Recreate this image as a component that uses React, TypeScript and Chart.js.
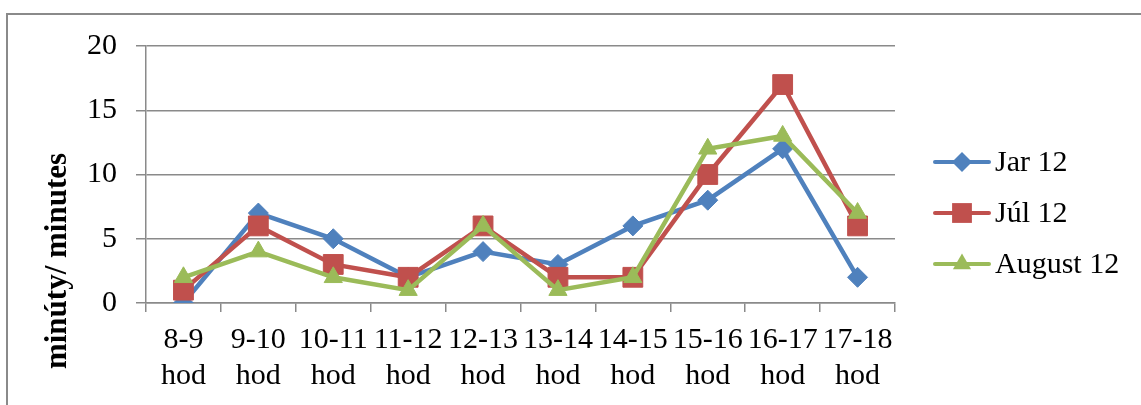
import React, { useEffect, useRef } from 'react';
import { Chart, registerables } from 'chart.js';

Chart.register(...registerables);

const categories: string[][] = [
  ['8-9', 'hod'],
  ['9-10', 'hod'],
  ['10-11', 'hod'],
  ['11-12', 'hod'],
  ['12-13', 'hod'],
  ['13-14', 'hod'],
  ['14-15', 'hod'],
  ['15-16', 'hod'],
  ['16-17', 'hod'],
  ['17-18', 'hod'],
];
const jar12 = [0, 7, 5, 2, 4, 3, 6, 8, 12, 2];
const jul12 = [1, 6, 3, 2, 6, 2, 2, 10, 17, 6];
const aug12 = [2, 4, 2, 1, 6, 1, 2, 12, 13, 7];
const yTicks = [0, 5, 10, 15, 20];
const seriesNames = ['Jar 12', 'Júl 12', 'August 12'];
const seriesColors = ['#4F81BD', '#C0504D', '#9BBB59'];
const seriesMarkers = ['rectRot', 'rect', 'triangle'];
const markerRadius = [10, 14, 10.5];
const yTitle = 'minúty/ minutes';

const FONT = "'Liberation Serif', 'Times New Roman', serif";
const GRAY = '#8a8a8a';

function drawMarker(ctx: CanvasRenderingContext2D, style: string, x: number, y: number, r: number) {
  ctx.beginPath();
  if (style === 'rectRot') {
    ctx.moveTo(x - r, y);
    ctx.lineTo(x, y - r);
    ctx.lineTo(x + r, y);
    ctx.lineTo(x, y + r);
  } else if (style === 'rect') {
    const s = Math.SQRT1_2 * r;
    ctx.rect(x - s, y - s, 2 * s, 2 * s);
  } else {
    const a = (2 * Math.PI) / 3;
    ctx.moveTo(x, y - r);
    ctx.lineTo(x + Math.sin(a) * r, y - Math.cos(a) * r);
    ctx.lineTo(x + Math.sin(2 * a) * r, y - Math.cos(2 * a) * r);
  }
  ctx.closePath();
  ctx.fill();
}

const decorPlugin = {
  id: 'decor',
  beforeDraw(chart: any) {
    const ctx: CanvasRenderingContext2D = chart.ctx;
    ctx.save();
    ctx.fillStyle = '#ffffff';
    ctx.fillRect(0, 0, chart.width, chart.height);
    ctx.strokeStyle = GRAY;
    ctx.lineWidth = 2;
    ctx.beginPath();
    ctx.moveTo(7, chart.height);
    ctx.lineTo(7, 14);
    ctx.lineTo(chart.width, 14);
    ctx.stroke();
    ctx.restore();
  },
  afterDraw(chart: any) {
    const ctx: CanvasRenderingContext2D = chart.ctx;
    const area = chart.chartArea;
    ctx.save();
    // y-axis title
    ctx.translate(58, 261);
    ctx.rotate(-Math.PI / 2);
    ctx.font = `bold 31px ${FONT}`;
    ctx.fillStyle = '#000';
    ctx.textAlign = 'center';
    ctx.textBaseline = 'middle';
    ctx.fillText(yTitle, 0, 0);
    ctx.restore();

    // legend
    ctx.save();
    const x0 = area.right + 40;
    const y0 = area.top + 116;
    chart.data.datasets.forEach((ds: any, i: number) => {
      const y = y0 + i * 51;
      ctx.strokeStyle = ds.borderColor;
      ctx.lineWidth = 4;
      ctx.lineCap = 'round';
      ctx.beginPath();
      ctx.moveTo(x0, y);
      ctx.lineTo(x0 + 54, y);
      ctx.stroke();
      ctx.fillStyle = ds.borderColor;
      drawMarker(ctx, ds.pointStyle, x0 + 27, y, ds.pointRadius);
      ctx.fillStyle = '#000';
      ctx.font = `30px ${FONT}`;
      ctx.textAlign = 'left';
      ctx.textBaseline = 'middle';
      ctx.fillText(ds.label, x0 + 60, y + 1);
    });
    ctx.restore();
  },
};

export default function App() {
  const ref = useRef<HTMLCanvasElement>(null);

  useEffect(() => {
    if (!ref.current) return;
    const series = [jar12, jul12, aug12];
    const chart = new Chart(ref.current, {
      type: 'line',
      data: {
        labels: categories,
        datasets: series.map((d, i) => ({
          label: seriesNames[i],
          data: d,
          borderColor: seriesColors[i],
          backgroundColor: seriesColors[i],
          pointBackgroundColor: seriesColors[i],
          pointBorderColor: seriesColors[i],
          pointBorderWidth: 1,
          pointStyle: seriesMarkers[i] as any,
          pointRadius: markerRadius[i],
          pointHoverRadius: markerRadius[i],
          borderWidth: 4.5,
          tension: 0,
          fill: false,
          order: 3 - i,
        })),
      },
      options: {
        responsive: false,
        animation: false,
        events: [],
        layout: { padding: { top: 46, right: 246, bottom: 0, left: 0 } },
        plugins: {
          legend: { display: false },
          tooltip: { enabled: false },
          title: { display: false },
        },
        scales: {
          x: {
            type: 'category',
            offset: true,
            grid: {
              offset: true,
              drawOnChartArea: false,
              drawTicks: true,
              tickLength: 9,
              color: GRAY,
              lineWidth: 1.5,
            },
            border: { display: true, color: GRAY, width: 1.5 },
            ticks: {
              maxRotation: 0,
              minRotation: 0,
              autoSkip: false,
              padding: 10,
              color: '#000',
              font: { family: FONT, size: 30, lineHeight: 1.2 },
            },
            afterFit: (s: any) => {
              s.height = 102;
            },
          },
          y: {
            min: 0,
            max: 20,
            afterBuildTicks: (s: any) => {
              s.ticks = yTicks.map((v) => ({ value: v }));
            },
            grid: {
              color: GRAY,
              lineWidth: 1.5,
              tickLength: 10,
              drawTicks: true,
            },
            border: { display: true, color: GRAY, width: 1.5 },
            ticks: {
              padding: 19,
              color: '#000',
              font: { family: FONT, size: 30, lineHeight: 1.2 },
            },
            afterFit: (s: any) => {
              s.width = 146;
            },
          },
        },
      },
      plugins: [decorPlugin],
    });
    return () => chart.destroy();
  }, []);

  return (
    <div style={{ position: 'fixed', left: 0, top: 0, width: 1141, height: 405, overflow: 'hidden', background: '#fff' }}>
      <canvas ref={ref} width={1141} height={405} style={{ display: 'block', width: 1141, height: 405 }} />
    </div>
  );
}
